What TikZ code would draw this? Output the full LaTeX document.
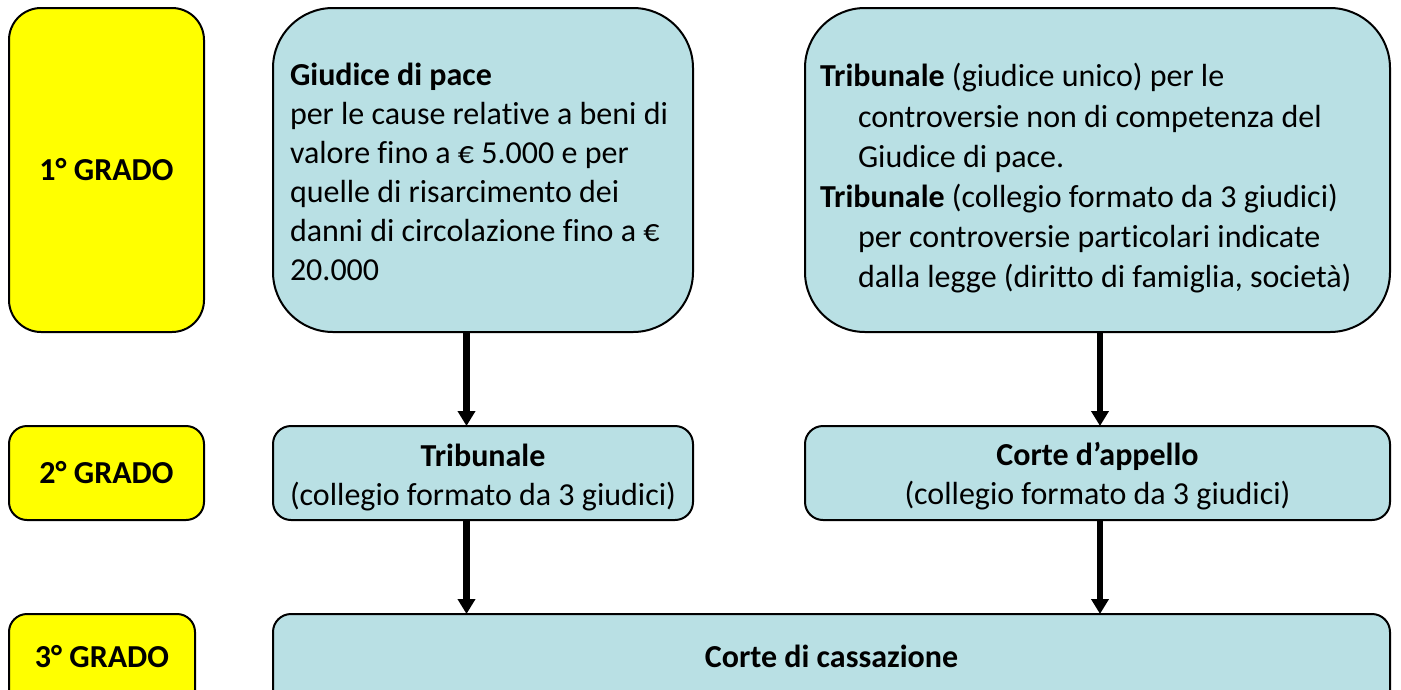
\documentclass[tikz,border=0pt]{standalone}
\usepackage{fontspec}
\setmainfont{Carlito}[Ligatures={NoCommon}]
\usetikzlibrary{arrows.meta}
\definecolor{lblue}{RGB}{185,224,228}
\definecolor{yel}{RGB}{255,255,0}
\begin{document}
\begin{tikzpicture}[x=1pt,y=-1pt,
  box/.style={draw=black, line width=2pt, anchor=north west, outer sep=0pt, inner sep=0pt, rounded corners=18pt},
  gradebox/.style={box, fill=yel, font=\fontsize{32}{39}\selectfont\bfseries},
  bluebox/.style={box, fill=lblue},
  txt/.style={inner sep=0pt, outer sep=0pt, align=left, font=\fontsize{32}{38.9}\selectfont},
  ctxt/.style={align=center, inner sep=0pt, font=\fontsize{32}{39}\selectfont},
  arr/.style={line width=6.5pt, -{Triangle[length=15pt,width=17pt]}}
]
\clip (0,0) rectangle (1401,689);
\fill[white] (0,0) rectangle (1401,689);
% grade labels
\node[gradebox, rounded corners=32pt, minimum width=195pt, minimum height=324pt] (g1) at (9,8) {1° GRADO};
\node[gradebox, minimum width=195pt, minimum height=94pt] (g2) at (9,426) {2° GRADO};
\node[gradebox, minimum width=186pt, minimum height=94pt] (g3) at (9,614) {\raisebox{9pt}{3° GRADO}};
% first level
\node[bluebox, rounded corners=60pt, minimum width=420pt, minimum height=324pt] (gp) at (273,8) {};
\node[txt, anchor=west] (gpt) at (290,172) {\textbf{Giudice di pace}\\
per le cause relative a beni di\\
valore fino a € 5.000 e per\\
quelle di risarcimento dei\\
danni di circolazione fino a €\\
20.000};
\node[bluebox, rounded corners=60pt, minimum width=585pt, minimum height=324pt] (tr1) at (805,8) {};
\node[txt, anchor=west, font=\fontsize{32}{40.2}\selectfont] (tr1t) at (820,178.5) {\textbf{Tribunale} (giudice unico) per le\\
\hspace*{38pt}controversie non di competenza del\\
\hspace*{38pt}Giudice di pace.\\
\textbf{Tribunale} (collegio formato da 3 giudici)\\
\hspace*{38pt}per controversie particolari indicate\\
\hspace*{38pt}dalla legge (diritto di famiglia, società)};
% second level
\node[bluebox, minimum width=420pt, minimum height=94pt] (tr2) at (273,426) {};
\node[ctxt] (tr2t) at (483,478) {\textbf{Tribunale}\\(collegio formato da 3 giudici)};
\node[bluebox, minimum width=585pt, minimum height=94pt] (ca) at (805,426) {};
\node[ctxt] (cat) at (1097.5,476.5) {\textbf{Corte d’appello}\\(collegio formato da 3 giudici)};
% third level
\node[bluebox, font=\fontsize{32}{39}\selectfont\bfseries, minimum width=1117pt, minimum height=94pt] (cc) at (273,614) {\raisebox{9pt}{Corte di cassazione}};
% arrows
\coordinate (xl) at (466.5,0);
\coordinate (xr) at (1100,0);
\draw[arr] (gp.south -| xl) -- (tr2.north -| xl);
\draw[arr] (tr1.south -| xr) -- (ca.north -| xr);
\draw[arr] (tr2.south -| xl) -- (cc.north -| xl);
\draw[arr] (ca.south -| xr) -- (cc.north -| xr);
\end{tikzpicture}
\end{document}
